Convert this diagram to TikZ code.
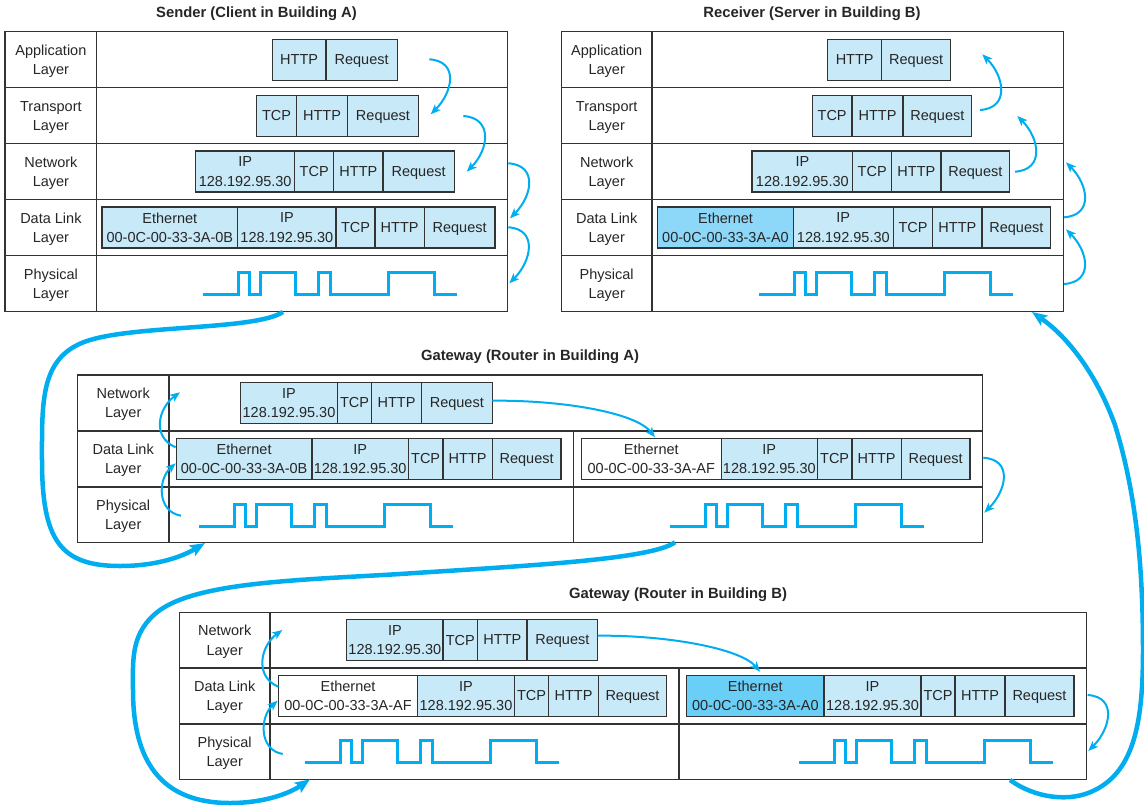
\documentclass[tikz,border=0pt]{standalone}
\usepackage{fontspec}
\setmainfont{Liberation Sans}
\usetikzlibrary{arrows.meta,calc}
\definecolor{arrc}{HTML}{00AEEF}
\definecolor{lfill}{HTML}{C8E9F8}
\definecolor{dfillR}{HTML}{8DD8F8}
\definecolor{dfillG}{HTML}{6ACFF6}
\definecolor{linec}{HTML}{333333}
\newcommand\pf{\fontsize{14.5}{19.3}\selectfont}
\newcommand\af{\fontsize{14.5}{19.3}\selectfont}
\newcommand\tf{\fontsize{14.8}{18}\selectfont\bfseries}
\tikzset{
 frame/.style={draw=linec,line width=1.3pt},
 rowline/.style={draw=linec,line width=1.6pt},
 pcell/.style={draw=linec,line width=1.2pt,minimum height=41pt,inner sep=0pt,outer sep=0pt,align=center,font=\pf,text=black!85,text depth=0pt},
 lab/.style={align=center,font=\pf,inner sep=0pt,text=black!85,text depth=0pt},
 ttl/.style={font=\tf,inner sep=0pt,text=black!85},
 wave/.style={draw=arrc,line width=3pt},
 arr/.style={draw=arrc,line width=2pt,-{Stealth[length=10pt,width=8pt,inset=2.5pt]}},
 big/.style={draw=arrc,line width=4.5pt,-{Stealth[length=15pt,width=12pt,inset=3pt]}},
}
\newcommand\pc[6]{\node[pcell,fill=#5,minimum width={#3-#2},anchor=west] (#1) at (#2,#4) {#6};}
\newcommand\wv[2]{\draw[wave] (#1,#2) -- ++(35,0) -- ++(0,-22) -- ++(11,0) -- ++(0,22) -- ++(11.5,0) -- ++(0,-22) -- ++(35,0) -- ++(0,22) -- ++(23,0) -- ++(0,-22) -- ++(11.5,0) -- ++(0,22) -- ++(58,0) -- ++(0,-22) -- ++(46,0) -- ++(0,22) -- ++(22.5,0);}
\newcommand\dnR[2]{\draw[arr] (#1) .. controls ($(#1)+(30,2)$) and ($(#2)+(22,-22)$) .. (#2);}
\newcommand\upR[2]{\draw[arr] (#1) .. controls ($(#1)+(30,-2)$) and ($(#2)+(22,22)$) .. (#2);}
\newcommand\upLa[2]{\draw[arr] (#1) .. controls ($(#1)+(-24,-4)$) and ($(#2)+(-18,16)$) .. (#2);}
\newcommand\upLb[2]{\draw[arr] (#1) .. controls ($(#1)+(-24,-10)$) and ($(#2)+(-22,16)$) .. (#2);}
\begin{document}
\begin{tikzpicture}[x=1pt,y=-1pt]
\useasboundingbox (0,0) rectangle (1144,807);
\fill[white] (0,0) rectangle (1144,807);

% ---------- Sender ----------
\node[ttl] (t1) at (256.5,14) {Sender (Client in Building A)};
\draw[frame] (5,31.7) rectangle (507.7,311.7);
\draw[frame] (96.7,31.7) -- (96.7,311.7);
\foreach \y in {87.7,143.7,199.7,255.7} \draw[frame] (5,\y) -- (507.7,\y);
\node[lab] (sl1) at (50.9,59.7) {Application\\Layer};
\node[lab] (sl2) at (50.9,115.7) {Transport\\Layer};
\node[lab] (sl3) at (50.9,171.7) {Network\\Layer};
\node[lab] (sl4) at (50.9,227.7) {Data Link\\Layer};
\node[lab] (sl5) at (50.9,283.7) {Physical\\Layer};
\pc{sa1}{272.3}{326}{59.8}{lfill}{HTTP}
\pc{sa2}{326}{397.3}{59.8}{lfill}{Request}
\pc{st1}{256.7}{296.3}{115.7}{lfill}{TCP}
\pc{st2}{296.3}{347.7}{115.7}{lfill}{HTTP}
\pc{st3}{347.7}{418.3}{115.7}{lfill}{Request}
\pc{sn1}{195.7}{294.7}{171.5}{lfill}{IP\\{\af 128.192.95.30}}
\pc{sn2}{294.7}{333.7}{171.5}{lfill}{TCP}
\pc{sn3}{333.7}{383}{171.5}{lfill}{HTTP}
\pc{sn4}{383}{454.3}{171.5}{lfill}{Request}
\pc{sd1}{102}{237.7}{227.5}{lfill}{Ethernet\\00-0C-00-33-3A-0B}
\pc{sd2}{237.7}{336}{227.5}{lfill}{IP\\{\af 128.192.95.30}}
\pc{sd3}{336}{375}{227.5}{lfill}{TCP}
\pc{sd4}{375}{424.3}{227.5}{lfill}{HTTP}
\pc{sd5}{424.3}{495}{227.5}{lfill}{Request}
\wv{203.3}{294.3}

% ---------- Receiver ----------
\node[ttl] (t2) at (812,14) {Receiver (Server in Building B)};
\draw[frame] (561.4,31.7) rectangle (1063.3,311.7);
\draw[frame] (652,31.7) -- (652,311.7);
\foreach \y in {87.7,143.7,199.7,255.7} \draw[frame] (561.4,\y) -- (1063.3,\y);
\node[lab] (rl1) at (606.7,59.7) {Application\\Layer};
\node[lab] (rl2) at (606.7,115.7) {Transport\\Layer};
\node[lab] (rl3) at (606.7,171.7) {Network\\Layer};
\node[lab] (rl4) at (606.7,227.7) {Data Link\\Layer};
\node[lab] (rl5) at (606.7,283.7) {Physical\\Layer};
\pc{ra1}{827.7}{881.7}{59.8}{lfill}{HTTP}
\pc{ra2}{881.7}{950.7}{59.8}{lfill}{Request}
\pc{rt1}{812.3}{852}{115.7}{lfill}{TCP}
\pc{rt2}{852}{903}{115.7}{lfill}{HTTP}
\pc{rt3}{903}{971.7}{115.7}{lfill}{Request}
\pc{rn1}{752}{852.7}{171.5}{lfill}{IP\\{\af 128.192.95.30}}
\pc{rn2}{852.7}{891.7}{171.5}{lfill}{TCP}
\pc{rn3}{891.7}{941}{171.5}{lfill}{HTTP}
\pc{rn4}{941}{1009.7}{171.5}{lfill}{Request}
\pc{rd1}{657.7}{793.3}{227.5}{dfillR}{Ethernet\\00-0C-00-33-3A-A0}
\pc{rd2}{793.3}{893.3}{227.5}{lfill}{IP\\{\af 128.192.95.30}}
\pc{rd3}{893.3}{932.7}{227.5}{lfill}{TCP}
\pc{rd4}{932.7}{982}{227.5}{lfill}{HTTP}
\pc{rd5}{982}{1050.7}{227.5}{lfill}{Request}
\wv{759.3}{294.3}

% ---------- Gateway A ----------
\node[ttl] (t3) at (530,356.7) {Gateway (Router in Building A)};
\draw[frame] (77.3,375) rectangle (982.7,542.3);
\draw[frame] (169,375) -- (169,542.3);
\draw[rowline] (77.3,430.7) -- (982.7,430.7);
\draw[rowline] (77.3,486.7) -- (982.7,486.7);
\draw[frame] (573.3,430.7) -- (573.3,542.3);
\node[lab] (al1) at (123.2,402.9) {Network\\Layer};
\node[lab] (al2) at (123.2,458.7) {Data Link\\Layer};
\node[lab] (al3) at (123.2,514.5) {Physical\\Layer};
\pc{an1}{240.7}{337.3}{402.8}{lfill}{IP\\{\af 128.192.95.30}}
\pc{an2}{337.3}{371.7}{402.8}{lfill}{TCP}
\pc{an3}{371.7}{421.3}{402.8}{lfill}{HTTP}
\pc{an4}{421.3}{492.3}{402.8}{lfill}{Request}
\pc{ad1}{176.3}{312}{458.8}{lfill}{Ethernet\\00-0C-00-33-3A-0B}
\pc{ad2}{312}{408.3}{458.8}{lfill}{IP\\{\af 128.192.95.30}}
\pc{ad3}{408.3}{443}{458.8}{lfill}{TCP}
\pc{ad4}{443}{492.3}{458.8}{lfill}{HTTP}
\pc{ad5}{492.3}{561}{458.8}{lfill}{Request}
\pc{ae1}{581.3}{721.3}{458.8}{white}{Ethernet\\00-0C-00-33-3A-AF}
\pc{ae2}{721.3}{817.3}{458.8}{lfill}{IP\\{\af 128.192.95.30}}
\pc{ae3}{817.3}{852}{458.8}{lfill}{TCP}
\pc{ae4}{852}{901.3}{458.8}{lfill}{HTTP}
\pc{ae5}{901.3}{970}{458.8}{lfill}{Request}
\wv{199}{526}
\wv{670}{526.5}

% ---------- Gateway B ----------
\node[ttl] (t4) at (678,595) {Gateway (Router in Building B)};
\draw[frame] (179.3,612.3) rectangle (1086.7,779.3);
\draw[frame] (270,612.3) -- (270,779.3);
\draw[rowline] (179.3,667.7) -- (1086.7,667.7);
\draw[rowline] (179.3,724) -- (1086.7,724);
\draw[frame] (679,667.7) -- (679,779.3);
\node[lab] (bl1) at (224.7,640.1) {Network\\Layer};
\node[lab] (bl2) at (224.7,695.9) {Data Link\\Layer};
\node[lab] (bl3) at (224.7,751.6) {Physical\\Layer};
\pc{bn1}{346.7}{443}{640}{lfill}{IP\\{\af 128.192.95.30}}
\pc{bn2}{443}{477.7}{640}{lfill}{TCP}
\pc{bn3}{477.7}{527}{640}{lfill}{HTTP}
\pc{bn4}{527}{597.7}{640}{lfill}{Request}
\pc{bd1}{278.3}{417.7}{695.9}{white}{Ethernet\\00-0C-00-33-3A-AF}
\pc{bd2}{417.7}{514.3}{695.9}{lfill}{IP\\{\af 128.192.95.30}}
\pc{bd3}{514.3}{548.7}{695.9}{lfill}{TCP}
\pc{bd4}{548.7}{598.3}{695.9}{lfill}{HTTP}
\pc{bd5}{598.3}{666.7}{695.9}{lfill}{Request}
\pc{be1}{686.7}{824}{695.9}{dfillG}{Ethernet\\00-0C-00-33-3A-A0}
\pc{be2}{824}{921}{695.9}{lfill}{IP\\{\af 128.192.95.30}}
\pc{be3}{921}{955}{695.9}{lfill}{TCP}
\pc{be4}{955}{1005}{695.9}{lfill}{HTTP}
\pc{be5}{1005}{1074}{695.9}{lfill}{Request}
\wv{305}{762.7}
\wv{799}{762.7}

% ---------- arrow end points ----------
\coordinate (s1a) at (429.3,59.3);  \coordinate (s1b) at (430.7,114.3);
\coordinate (s2a) at (463.3,116);   \coordinate (s2b) at (466.7,171.7);
\coordinate (s3a) at (508.3,163.3); \coordinate (s3b) at (510,218.3);
\coordinate (s4a) at (508.3,227.3); \coordinate (s4b) at (509.3,283.3);
\coordinate (r1a) at (1064,284);    \coordinate (r1b) at (1066,229.3);
\coordinate (r2a) at (1064,217.3);  \coordinate (r2b) at (1066,162.3);
\coordinate (r3a) at (1015,171.7);  \coordinate (r3b) at (1017.3,116);
\coordinate (r4a) at (980,110);     \coordinate (r4b) at (982.3,54.3);
\coordinate (g1a) at (181,515.7);   \coordinate (g1b) at (175.7,463.3);
\coordinate (g2a) at (175.7,447.3); \coordinate (g2b) at (180,392.3);
\coordinate (g3a) at (492.3,400.7); \coordinate (g3b) at (655,437.3);
\coordinate (g4a) at (983.3,457.7); \coordinate (g4b) at (984.3,512.7);
\coordinate (h1a) at (282.7,754);   \coordinate (h1b) at (277.7,700.7);
\coordinate (h2a) at (278.3,686.7); \coordinate (h2b) at (282.3,630);
\coordinate (h3a) at (597.7,635.7); \coordinate (h3b) at (760,671.7);
\coordinate (h4a) at (1087.7,695);  \coordinate (h4b) at (1088.3,751);
\coordinate (b1a) at (283,312);     \coordinate (b1b) at (205,543);
\coordinate (b2a) at (675,542.3);   \coordinate (b2b) at (310,779.3);
\coordinate (b3a) at (1010,780);    \coordinate (b3b) at (1032,312);

% ---------- thin arrows ----------
\dnR{s1a}{s1b} \dnR{s2a}{s2b} \dnR{s3a}{s3b} \dnR{s4a}{s4b}
\upR{r1a}{r1b} \upR{r2a}{r2b} \upR{r3a}{r3b} \upR{r4a}{r4b}
\upLa{g1a}{g1b} \upLb{g2a}{g2b}
\upLa{h1a}{h1b} \upLb{h2a}{h2b}
\draw[arr] (g3a) .. controls (560,400) and (635,412) .. (g3b);
\draw[arr] (h3a) .. controls (665,635) and (740,648) .. (h3b);
\dnR{g4a}{g4b} \dnR{h4a}{h4b}

% ---------- thick arrows ----------
\draw[big] (b1a) .. controls (255,330) and (140,325) .. (90,340)
  .. controls (40,355) and (42,400) .. (42,460)
  .. controls (42,540) and (60,566) .. (120,566)
  .. controls (160,566) and (185,555) .. (b1b);
\draw[big] (b2a) .. controls (650,560) and (520,566) .. (400,574)
  .. controls (300,580) and (200,582) .. (160,610)
  .. controls (130,632) and (133,660) .. (133,690)
  .. controls (133,760) and (160,803) .. (230,803)
  .. controls (265,803) and (290,793) .. (b2b);
\draw[big] (b3a) .. controls (1035,798) and (1070,803) .. (1095,790)
  .. controls (1135,770) and (1143,720) .. (1143,650)
  .. controls (1143,560) and (1135,490) .. (1115,425)
  .. controls (1095,370) and (1065,335) .. (b3b);
\end{tikzpicture}
\end{document}
